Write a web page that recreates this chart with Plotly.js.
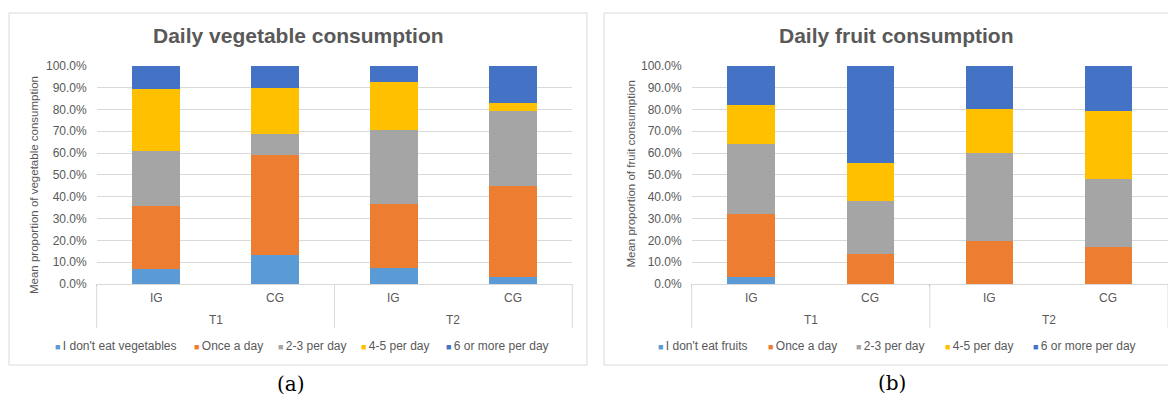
<!DOCTYPE html>
<html>
<head>
<meta charset="utf-8">
<script src="https://cdn.plot.ly/plotly-3.0.1.min.js"></script>
<style>
  html, body { margin: 0; padding: 0; background: #ffffff; }
  #chart { width: 1168px; height: 400px; }
</style>
</head>
<body>
<div id="chart"></div>
<script>
// ---- data ----
const periods = ['T1', 'T1', 'T2', 'T2'];
const groups = ['IG', 'CG', 'IG', 'CG'];

const vegLabels = ["I don't eat vegetables", 'Once a day', '2-3 per day', '4-5 per day', '6 or more per day'];
const fruitLabels = ["I don't eat fruits", 'Once a day', '2-3 per day', '4-5 per day', '6 or more per day'];

const vegNone = [0.069, 0.134, 0.072, 0.034];
const vegOnce = [0.289, 0.455, 0.296, 0.416];
const vegTwoThree = [0.249, 0.100, 0.337, 0.344];
const vegFourFive = [0.286, 0.210, 0.222, 0.033];
const vegSixPlus = [0.107, 0.101, 0.073, 0.173];

const fruitNone = [0.032, 0.000, 0.000, 0.000];
const fruitOnce = [0.289, 0.138, 0.199, 0.171];
const fruitTwoThree = [0.321, 0.241, 0.401, 0.309];
const fruitFourFive = [0.179, 0.175, 0.201, 0.314];
const fruitSixPlus = [0.179, 0.446, 0.199, 0.206];

const vegTitle = 'Daily vegetable consumption';
const fruitTitle = 'Daily fruit consumption';
const vegYTitle = 'Mean proportion of vegetable consumption';
const fruitYTitle = 'Mean proportion of fruit consumption';

// ---- style ----
const colors = ['#5B9BD5', '#ED7D31', '#A5A5A5', '#FFC000', '#4472C4'];
const txt = '#595959';
const grid = '#D9D9D9';
const FONT = 'Liberation Sans, Arial, sans-serif';
const W = 1168, H = 400;
const px = v => v / W;
const py = v => 1 - v / H;

const vegSeries = [vegNone, vegOnce, vegTwoThree, vegFourFive, vegSixPlus];
const fruitSeries = [fruitNone, fruitOnce, fruitTwoThree, fruitFourFive, fruitSixPlus];

const traces = [];
vegSeries.forEach((s, i) => traces.push({
  type: 'bar', x: [periods, groups], y: s, name: vegLabels[i],
  marker: { color: colors[i] }, xaxis: 'x', yaxis: 'y', showlegend: false, hoverinfo: 'skip'
}));
fruitSeries.forEach((s, i) => traces.push({
  type: 'bar', x: [periods, groups], y: s, name: fruitLabels[i],
  marker: { color: colors[i] }, xaxis: 'x2', yaxis: 'y2', showlegend: false, hoverinfo: 'skip'
}));

const xCommon = {
  type: 'multicategory', showgrid: false, showline: true, linecolor: grid, linewidth: 1,
  ticks: '', showticklabels: false, fixedrange: true
};
const yCommon = {
  range: [0, 1], dtick: 0.1, tickformat: '.1%', showgrid: true, gridcolor: grid, gridwidth: 1,
  zeroline: false, showline: false, ticks: '', ticklabelstandoff: 9,
  tickfont: { family: FONT, size: 12, color: txt }, fixedrange: true
};
const yDom = [py(284), py(65.7)];

const ann = [];
const shapes = [];

// category labels (two levels) and group dividers, placed in axis-domain coordinates
function categoryAxis(xref) {
  const n = groups.length;
  groups.forEach((g, i) => ann.push({
    text: g, xref: xref, yref: 'paper', x: (i + 0.5) / n, y: py(298),
    xanchor: 'center', yanchor: 'middle', showarrow: false, font: { family: FONT, size: 12, color: txt }
  }));
  let start = 0;
  const bounds = [0];
  for (let i = 1; i <= n; i++) {
    if (i === n || periods[i] !== periods[i - 1]) {
      ann.push({
        text: periods[start], xref: xref, yref: 'paper', x: (start + i) / 2 / n, y: py(320),
        xanchor: 'center', yanchor: 'middle', showarrow: false, font: { family: FONT, size: 12, color: txt }
      });
      bounds.push(i / n);
      start = i;
    }
  }
  bounds.forEach(b => shapes.push({
    type: 'line', xref: xref, yref: 'paper', x0: b, x1: b, y0: py(284), y1: py(328),
    line: { color: grid, width: 1 }
  }));
}
categoryAxis('x domain');
categoryAxis('x2 domain');

// titles
ann.push({ text: '<b>' + vegTitle + '</b>', x: px(298.5), y: py(35), xref: 'paper', yref: 'paper',
  xanchor: 'center', yanchor: 'middle', showarrow: false, font: { family: FONT, size: 21, color: txt } });
ann.push({ text: '<b>' + fruitTitle + '</b>', x: px(896.5), y: py(35), xref: 'paper', yref: 'paper',
  xanchor: 'center', yanchor: 'middle', showarrow: false, font: { family: FONT, size: 21, color: txt } });
// y titles
ann.push({ text: vegYTitle, x: px(34), y: py(185), xref: 'paper', yref: 'paper', textangle: -90,
  xanchor: 'center', yanchor: 'middle', showarrow: false, font: { family: FONT, size: 11.5, color: txt } });
ann.push({ text: fruitYTitle, x: px(630), y: py(174.5), xref: 'paper', yref: 'paper', textangle: -90,
  xanchor: 'center', yanchor: 'middle', showarrow: false, font: { family: FONT, size: 11.5, color: txt } });
// legends
const vegLegX = [53, 192, 276, 359, 444];
const fruitLegX = [656, 766, 854, 943, 1031];
function legendItem(label, color, xpx) {
  return { text: '<span style="color:' + color + ';font-size:9px">■</span>\u2009' + label,
    x: px(xpx), y: py(346), xref: 'paper', yref: 'paper', xanchor: 'left', yanchor: 'middle',
    showarrow: false, font: { family: FONT, size: 12, color: txt } };
}
vegLabels.forEach((l, i) => ann.push(legendItem(l, colors[i], vegLegX[i])));
fruitLabels.forEach((l, i) => ann.push(legendItem(l, colors[i], fruitLegX[i])));
// captions
ann.push({ text: '(a)', x: px(291), y: py(384), xref: 'paper', yref: 'paper', xanchor: 'center', yanchor: 'middle',
  showarrow: false, font: { family: 'DejaVu Serif, Liberation Serif, serif', size: 20, color: '#000000' } });
ann.push({ text: '(b)', x: px(892), y: py(383), xref: 'paper', yref: 'paper', xanchor: 'center', yanchor: 'middle',
  showarrow: false, font: { family: 'DejaVu Serif, Liberation Serif, serif', size: 20, color: '#000000' } });

// panel frames
shapes.push(
  { type: 'rect', xref: 'paper', yref: 'paper', x0: px(9), x1: px(587), y0: py(365), y1: py(13),
    line: { color: grid, width: 1 }, fillcolor: 'rgba(0,0,0,0)', layer: 'below' },
  { type: 'rect', xref: 'paper', yref: 'paper', x0: px(604), x1: px(1172), y0: py(365), y1: py(13),
    line: { color: grid, width: 1 }, fillcolor: 'rgba(0,0,0,0)', layer: 'below' }
);

const layout = {
  width: W, height: H, margin: { l: 0, r: 0, t: 0, b: 0 },
  paper_bgcolor: '#ffffff', plot_bgcolor: 'rgba(0,0,0,0)',
  barmode: 'stack', bargap: 0.6, showlegend: false,
  font: { family: FONT, color: txt },
  xaxis: Object.assign({}, xCommon, { domain: [px(96.7), px(572.3)], anchor: 'y' }),
  yaxis: Object.assign({}, yCommon, { domain: yDom, anchor: 'x' }),
  xaxis2: Object.assign({}, xCommon, { domain: [px(691.7), Math.min(1, px(1168.3))], anchor: 'y2' }),
  yaxis2: Object.assign({}, yCommon, { domain: yDom, anchor: 'x2' }),
  annotations: ann, shapes: shapes
};

Plotly.newPlot('chart', traces, layout, { displayModeBar: false, staticPlot: true });
</script>
</body>
</html>
